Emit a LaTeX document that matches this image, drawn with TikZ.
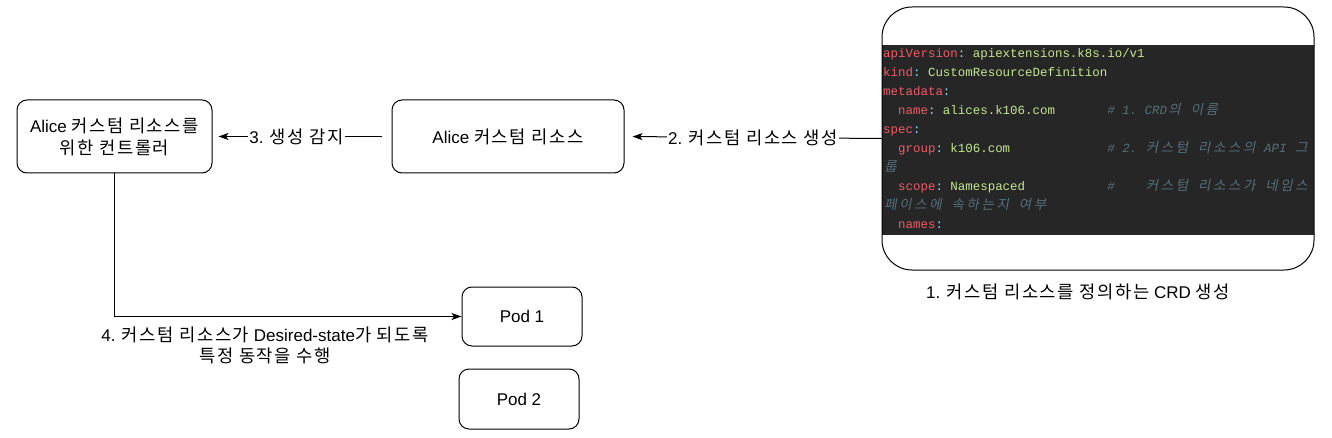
\documentclass[tikz,border=0pt]{standalone}
\usepackage{fontspec}
\setmainfont{Liberation Sans}
\newfontfamily\kr[Scale=1.04,LetterSpace=9]{Noto Sans CJK KR}
\newfontfamily\codefont{Liberation Mono}
\newfontfamily\krcode[FakeSlant=0.2]{Noto Sans CJK KR}
\usetikzlibrary{arrows.meta}
\definecolor{codebg}{HTML}{262626}
\definecolor{ckey}{HTML}{F25A66}
\definecolor{ccol}{HTML}{89DDFF}
\definecolor{cval}{HTML}{C3E88D}
\definecolor{ccmt}{HTML}{546E7A}
\newlength\cw \setlength\cw{7.47pt}
\newcommand\kc[1]{\makebox[2\cw][c]{\krcode\fontsize{13.5}{19}\selectfont #1}}
\makeatletter
\def\kw#1{\kw@#1\@nil}
\def\kw@#1{\ifx\@nil#1\else\kc{#1}\expandafter\kw@\fi}
\makeatother
\newcommand\yK[1]{\textcolor{ckey}{#1}}
\newcommand\yC{\textcolor{ccol}{:}}
\newcommand\yV[1]{\textcolor{cval}{#1}}
\newcommand\sk[1]{\hspace*{#1\cw}}
\newcommand\yM[1]{{\color{ccmt}\itshape #1}}
\newcommand\yH[1]{{\color{ccmt}\kw{#1}}}
\tikzset{
  box/.style={draw=black, line width=1pt, rounded corners=10pt, fill=white, inner sep=0pt,
    align=center, font=\fontsize{17}{22}\selectfont},
  arr/.style={draw=black, line width=1pt, -{Stealth[length=10pt,width=7pt,inset=2.5pt]}},
  lbl/.style={fill=white, inner sep=1pt, font=\fontsize{17}{21}\selectfont, align=center},
  codeline/.style={anchor=base west, inner sep=0pt, font=\codefont\fontsize{12.45}{19}\selectfont},
}
\begin{document}
\begin{tikzpicture}[x=1pt, y=-1pt]
\useasboundingbox (0,0) rectangle (1332,438);
% boxes
\node[box, minimum width=195pt, minimum height=73pt] (ctrl) at (114.5,136.5)
  {Alice {\kr 커스텀 리소스를}\\{\kr 위한 컨트롤러}};
\node[box, minimum width=232pt, minimum height=73pt] (cr) at (508,136.5)
  {Alice {\kr 커스텀 리소스}};
\node[box, minimum width=120pt, minimum height=59pt] (pod1) at (522,316.5) {Pod 1};
\node[box, minimum width=120pt, minimum height=60pt] (pod2) at (519,399) {Pod 2};
% code box
\fill[white] (882,7) rectangle (1314,270);
\fill[codebg] (882,45) rectangle (1314,235);
\node[draw=black, line width=1pt, rounded corners=30pt, minimum width=432pt, minimum height=263pt, inner sep=0pt] (code) at (1098,138.5) {};
\node[codeline] (c1) at (883,58) {\yK{apiVersion}\yC\sk{1}\yV{apiextensions.k8s.io/v1}};
\node[codeline] (c2) at (883,77) {\yK{kind}\yC\sk{1}\yV{CustomResourceDefinition}};
\node[codeline] (c3) at (883,96) {\yK{metadata}\yC};
\node[codeline] (c4) at (883,115) {\sk{2}\yK{name}\yC\sk{1}\yV{alices.k106.com}\sk{7}\yM{\#\sk{1}1.\sk{1}CRD}\yH{의}\sk{1}\yH{이름}};
\node[codeline] (c5) at (883,134) {\yK{spec}\yC};
\node[codeline] (c6) at (883,153) {\sk{2}\yK{group}\yC\sk{1}\yV{k106.com}\sk{13}\yM{\#\sk{1}2.\sk{1}}\yH{커스텀}\sk{1}\yH{리소스의}\sk{1}\yM{API}\sk{1}\yH{그}};
\node[codeline] (c7) at (883,172) {\yH{룹}};
\node[codeline] (c8) at (883,191) {\sk{2}\yK{scope}\yC\sk{1}\yV{Namespaced}\sk{11}\yM{\#}\sk{4}\yH{커스텀}\sk{1}\yH{리소스가}\sk{1}\yH{네임스}};
\node[codeline] (c9) at (883,210) {\yH{페이스에}\sk{1}\yH{속하는지}\sk{1}\yH{여부}};
\node[codeline] (c10) at (883,229) {\sk{2}\yK{names}\yC};
\node[lbl, fill=none] (cap) at (1078,292) {1. {\kr 커스텀 리소스를 정의하는} CRD {\kr 생성}};
% connectors
\draw[arr, shorten >=8pt] (code.west) -- node[lbl] (l2) {2. {\kr 커스텀 리소스 생성}} (cr.east);
\draw[arr, shorten <=10pt, shorten >=6pt] (cr.west) -- node[lbl, pos=0.53] (l3) {3. {\kr 생성 감지}} (ctrl.east);
\draw[arr] (ctrl.south) |- node[lbl, fill=none, pos=0.717, yshift=-29pt] (l4)
  {4. {\kr 커스텀 리소스가} Desired-state{\kr 가 되도록}\\{\kr 특정 동작을 수행}} (pod1.west);
\end{tikzpicture}
\end{document}
